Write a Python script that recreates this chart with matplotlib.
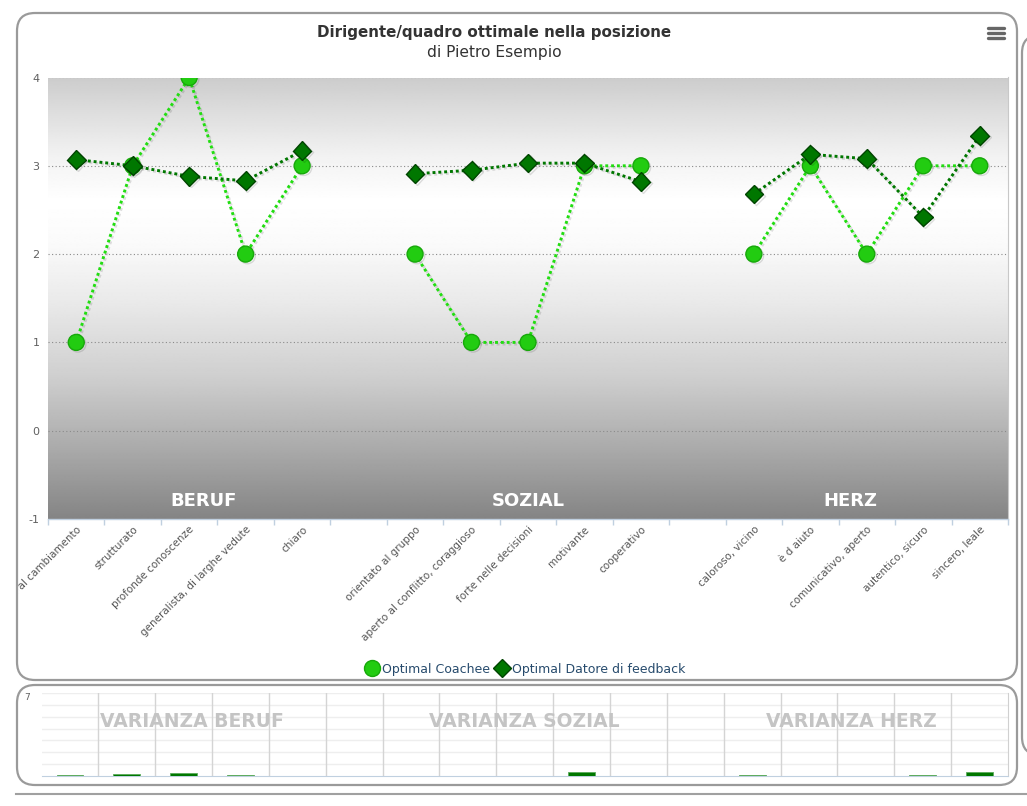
import numpy as np
import matplotlib
matplotlib.use("Agg")
import matplotlib.pyplot as plt
from matplotlib.patches import FancyBboxPatch
from matplotlib.lines import Line2D
from matplotlib.transforms import Bbox, TransformedBbox
import matplotlib.patheffects as pe

# ---------------- data ----------------
title = "Dirigente/quadro ottimale nella posizione"
subtitle = "di Pietro Esempio"
categories = ["aperto al cambiamento", "strutturato", "profonde conoscenze",
              "generalista, di larghe vedute", "chiaro", "",
              "orientato al gruppo", "aperto al conflitto, coraggioso",
              "forte nelle decisioni", "motivante", "cooperativo", "",
              "caloroso, vicino", "è d aiuto", "comunicativo, aperto",
              "autentico, sicuro", "sincero, leale"]
nan = np.nan
coachee = [1, 3, 4, 2, 3, nan, 2, 1, 1, 3, 3, nan, 2, 3, 2, 3, 3]
feedback = [3.07, 3.00, 2.88, 2.83, 3.17, nan, 2.91, 2.95, 3.03, 3.03, 2.82, nan,
            2.68, 3.13, 3.08, 2.42, 3.34]
series_names = ["Optimal Coachee", "Optimal Datore di feedback"]
groups = ["BERUF", "SOZIAL", "HERZ"]
group_pos = [2.25, 8.0, 13.7]
variance_labels = ["VARIANZA BERUF", "VARIANZA SOZIAL", "VARIANZA HERZ"]
variance_pos = [2.15, 8.0, 13.75]
variance = [0.08, 0.2, 0.28, 0.08, 0, 0, 0, 0, 0, 0.3, 0, 0, 0.08, 0, 0, 0.08, 0.3]
yticks_main = [-1, 0, 1, 2, 3, 4]

W, H = 1027, 806
fig = plt.figure(figsize=(W / 100, H / 100), dpi=100)
fig.patch.set_facecolor("white")

# background pixel-space axes
bg = fig.add_axes([0, 0, 1, 1], zorder=-5)
bg.set_xlim(0, W)
bg.set_ylim(H, 0)
bg.axis("off")

def rbox(x0, y0, x1, y1, r=18, ec="#9a9a9a", lw=1.6):
    p = FancyBboxPatch((x0 + r, y0 + r), (x1 - x0) - 2 * r, (y1 - y0) - 2 * r,
                       boxstyle=f"round,pad={r}", fc="white", ec=ec, lw=lw)
    bg.add_patch(p)

rbox(17, 13, 1017, 680)
rbox(17, 685, 1017, 785)
rbox(1022, 35, 1120, 755)
bg.plot([16, W], [794, 794], color="#a0a0a0", lw=1.5)

# hamburger icons
for (cx, cy) in [(996, 33), (996, 705)]:
    for dy in (-5, 0, 5):
        bg.plot([cx - 8, cx + 8], [cy + dy, cy + dy], color="#666666", lw=2.4,
                solid_capstyle="round")

bg.text(494, 32, title, ha="center", va="center", fontsize=10.9,
        fontweight="bold", color="#333333")
bg.text(494, 52, subtitle, ha="center", va="center", fontsize=11.2, color="#333333")

# ---------------- main chart ----------------
x0, x1, ytop, ybot = 48, 1008, 77.5, 519
ax = fig.add_axes([x0 / W, 1 - ybot / H, (x1 - x0) / W, (ybot - ytop) / H])
ax.set_facecolor("none")
n = len(categories)
ax.set_xlim(-0.5, n - 0.5)
ax.set_ylim(-1, 4)

stops_f = [0.0, 0.08, 0.18, 0.28, 0.38, 0.52, 0.68, 0.85, 1.0]
stops_v = [0.80, 0.87, 0.95, 1.00, 0.98, 0.91, 0.81, 0.66, 0.52]
f = np.linspace(0, 1, 400)
g = np.interp(f, stops_f, stops_v)
img = np.repeat(g[:, None], 2, axis=1)
ax.imshow(img, extent=[-0.5, n - 0.5, -1, 4], aspect="auto", cmap="gray",
          vmin=0, vmax=1, zorder=0, interpolation="bilinear")

for yv in [0, 1, 2, 3, 4]:
    ax.axhline(yv, color="#8a8a8a", lw=0.8, ls=(0, (1, 2.2)), zorder=1)

for s in ["top", "left"]:
    ax.spines[s].set_visible(False)
ax.spines["right"].set_color("#c8c8c8")
ax.spines["bottom"].set_color("#c0d0e0")
ax.spines["bottom"].set_linewidth(1)

xs = np.arange(n)
shadow = [pe.SimpleLineShadow(offset=(1.2, -1.2), shadow_color="black", alpha=0.12),
          pe.Normal()]
ax.plot(xs, coachee, color="#22dd11", lw=2.1, ls=(0, (1, 1)), marker="o",
        markersize=11.5, markerfacecolor="#22cc11", markeredgecolor="#17a80a",
        markeredgewidth=1, zorder=3, path_effects=shadow)
ax.plot(xs, feedback, color="#007700", lw=2.1, ls=(0, (1, 1)), marker="D",
        markersize=9.5, markerfacecolor="#007700", markeredgecolor="#004400",
        markeredgewidth=1, zorder=4, path_effects=shadow)

for gname, gp in zip(groups, group_pos):
    ax.text(gp, -0.8, gname, ha="center", va="center", fontsize=13,
            fontweight="bold", color="white", zorder=5)

ax.set_yticks(yticks_main)
ax.set_yticklabels([str(v) for v in yticks_main], fontsize=8, color="#606060")
ax.tick_params(axis="y", length=0, pad=6)
ax.set_xticks(np.arange(-0.5, n, 1), minor=True)
ax.set_xticks(xs)
ax.set_xticklabels(categories, rotation=45, ha="right", va="top",
                   rotation_mode="anchor", fontsize=7.5, color="#555555")
ax.tick_params(axis="x", which="major", length=0, pad=4)
ax.tick_params(axis="x", which="minor", length=4, color="#c0d0e0", width=1)

clipbb = TransformedBbox(Bbox([[18 / W, 0], [1, 1]]), fig.transFigure)
for lbl in ax.get_xticklabels():
    lbl.set_clip_box(clipbb)
    lbl.set_clip_on(True)

handles = [Line2D([], [], ls="none", marker="o", markersize=11.5,
                  markerfacecolor="#22cc11", markeredgecolor="#17a80a"),
           Line2D([], [], ls="none", marker="D", markersize=9.5,
                  markerfacecolor="#007700", markeredgecolor="#004400")]
fig.legend(handles, series_names, loc="center", bbox_to_anchor=(525 / W, 1 - 669 / H),
           ncol=2, frameon=False, fontsize=9, handletextpad=0.15, columnspacing=0.4,
           handlelength=1.2, labelcolor="#274b6d")

# ---------------- variance chart ----------------
bx0, bx1, btop, bbot = 41.5, 1008, 693, 776
bx = fig.add_axes([bx0 / W, 1 - bbot / H, (bx1 - bx0) / W, (bbot - btop) / H])
bx.set_facecolor("white")
bx.set_xlim(-0.5, n - 0.5)
bx.set_ylim(0, 7)
for yv in range(1, 8):
    bx.axhline(yv, color="#eeeeee", lw=1, zorder=0)
for xv in np.arange(0.5, n - 0.5, 1):
    bx.axvline(xv, color="#d4d4d4", lw=1, zorder=0)
bx.bar(xs, variance, width=0.47, color="#007700", edgecolor="#5aaa5a", lw=0.6, zorder=3)
for lab, vp in zip(variance_labels, variance_pos):
    bx.text(vp, 4.6, lab, ha="center", va="center", fontsize=13.5, fontweight="bold",
            color="#c4c4c4", zorder=2)
for s in ["top", "left"]:
    bx.spines[s].set_visible(False)
bx.spines["right"].set_color("#d0d0d0")
bx.spines["bottom"].set_color("#c0d0e0")
bx.set_xticks([])
bx.set_yticks([7])
bx.set_yticklabels(["7"], fontsize=6.5, color="#606060", va="top")
bx.tick_params(axis="y", length=0, pad=8)

fig.savefig("out.png", dpi=100, facecolor="white")
